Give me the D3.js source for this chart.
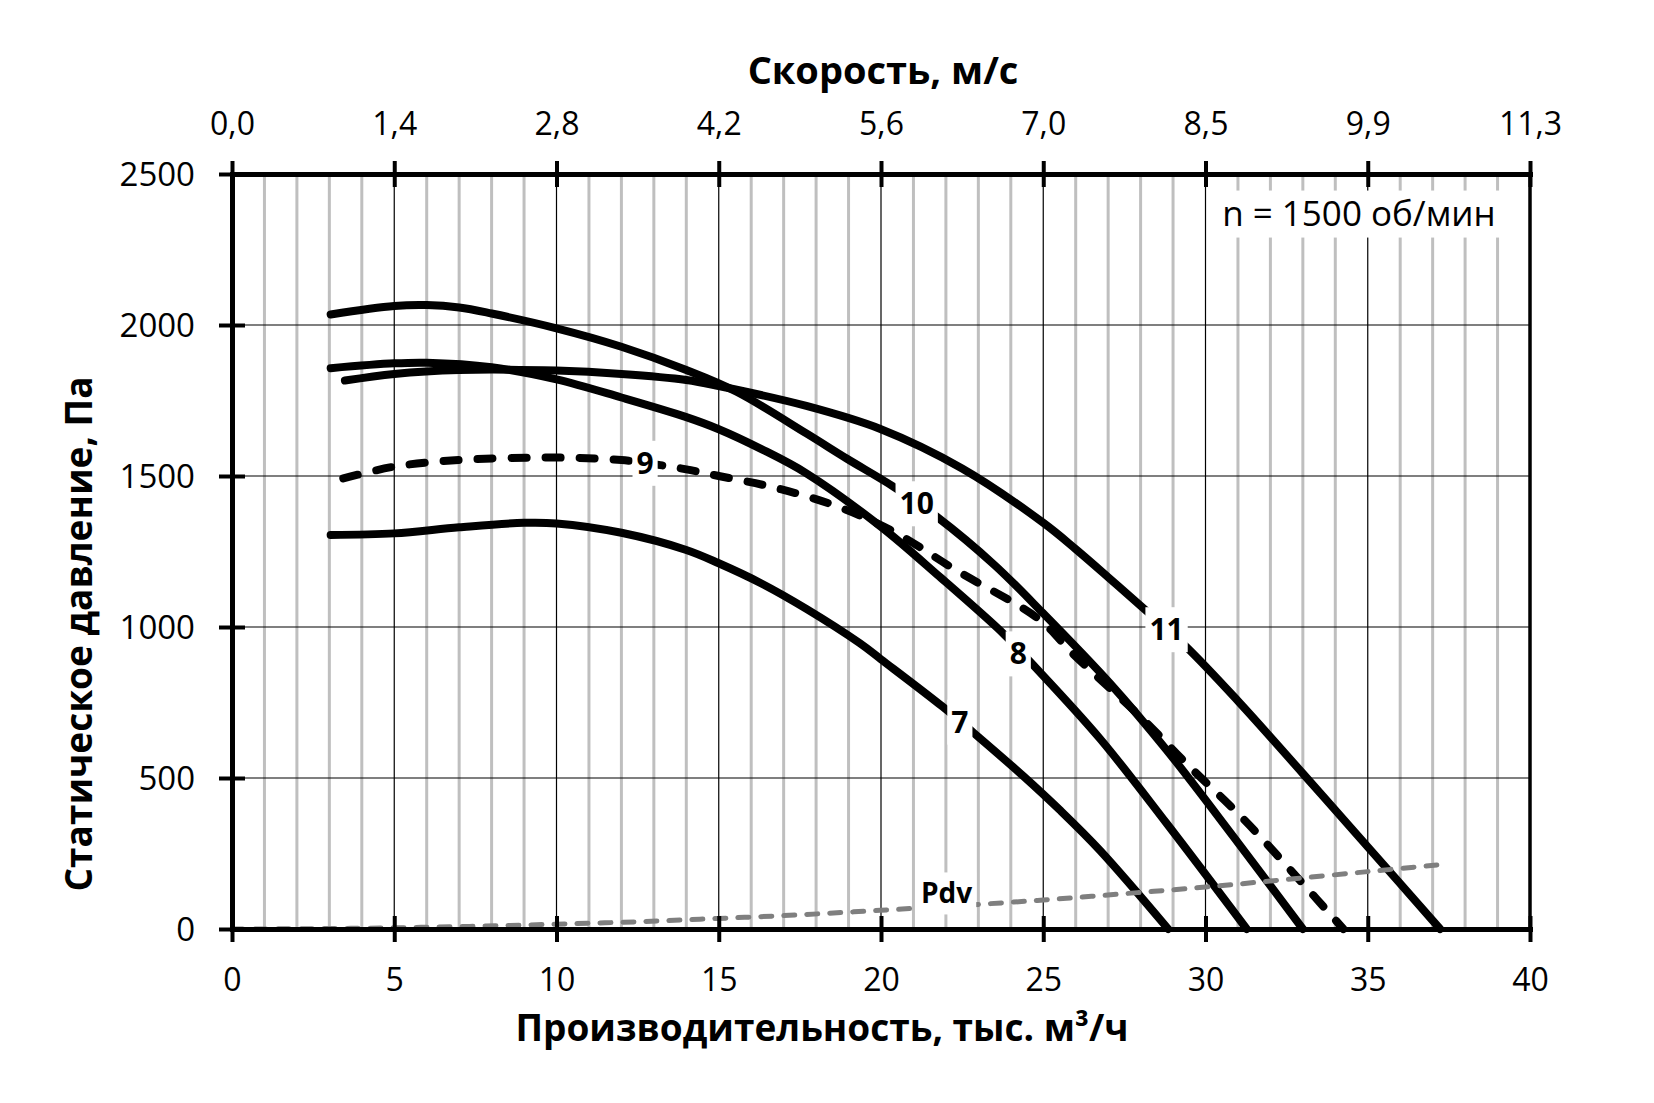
<!DOCTYPE html>
<html><head><meta charset="utf-8">
<script src="https://cdn.jsdelivr.net/npm/d3@7"></script>
<style>
body{margin:0;background:#fff;}
svg{display:block;}
text{font-family:"Open Sans",sans-serif;fill:#000;}
</style>
</head><body>
<svg id="chart" width="1654" height="1103"></svg>
<script>
// ---------- data ----------
const flowTicks = [0, 5, 10, 15, 20, 25, 30, 35, 40];
const velocityTickLabels = ["0,0", "1,4", "2,8", "4,2", "5,6", "7,0", "8,5", "9,9", "11,3"];
const pressureTicks = [0, 500, 1000, 1500, 2000, 2500];
const minorFlowGrid = [1,2,3,4,6,7,8,9,11,12,13,14,16,17,18,19,21,22,23,24,26,27,28,29,31,32,33,34,36,37,38,39];

const flow7 = [3.04, 5, 7, 9, 10, 12, 14, 15, 16.3, 17.7, 19.35, 20, 21.9, 22.85, 24.4, 25.5, 26.75, 28.85];
const p7    = [1305, 1310, 1330, 1345, 1343, 1312, 1255, 1211, 1145, 1060, 946, 893, 736, 650, 505, 395, 260, 0];

const flow8 = [3.04, 5, 6, 8, 10, 12, 14, 15, 16.3, 17.7, 20, 21.8, 23.8, 24.64, 26.75, 28.8, 31.27];
const p8    = [1857, 1873, 1875, 1860, 1820, 1760, 1695, 1655, 1590, 1509, 1332, 1167, 975, 880, 630, 350, 0];

const flow9 = [3.43, 5, 7, 10, 12, 13.2, 14, 15, 16.7, 18.5, 20.3, 22.3, 24.9, 25.9, 28.1, 29.4, 31.2, 32.9, 34.25];
const p9    = [1492, 1531, 1553, 1561, 1553, 1536, 1522, 1500, 1462, 1405, 1321, 1189, 1023, 913, 692, 549, 361, 162, 0];

const flow10 = [3.04, 5, 6, 7, 8, 10, 12, 14, 15.55, 17.7, 18.94, 20.38, 21.72, 23.5, 25, 27.06, 28.8, 30.86, 33.0];
const p10    = [2035, 2063, 2066, 2058, 2038, 1989, 1928, 1851, 1779, 1641, 1558, 1465, 1365, 1205, 1045, 813, 593, 306, 0];

const flow11 = [3.48, 5, 7, 10, 12, 14, 15, 17.7, 20, 22.5, 25, 26, 27, 28, 29.4, 31, 33, 35, 37.23];
const p11    = [1816, 1838, 1851, 1849, 1838, 1818, 1798, 1732, 1655, 1525, 1345, 1258, 1165, 1070, 935, 755, 515, 272, 0];

const flowPdv = [0, 2.5, 5, 7.5, 10, 12.5, 15, 17.5, 20, 22.5, 25, 27.5, 30, 32.5, 35, 37.13];
const pPdv    = [0, 1, 4, 9, 16, 24, 35, 47, 62, 78, 96, 117, 139, 164, 190, 212];

const curveNames = ["7", "8", "9", "10", "11", "Pdv"];
const labelFlow = [22.43, 24.23, 12.73, 21.1, 28.8, 22.02];
const labelPressure = [686, 912, 1543, 1409, 992, 118];

const speedNote = "n = 1500 об/мин";
const speedNoteFlow = 34.73, speedNotePressure = 2371;

// ---------- chart ----------
const svg = d3.select("#chart");
const x = d3.scaleLinear().domain([0, 40]).range([232, 1530]);
const y = d3.scaleLinear().domain([0, 2500]).range([929, 174]);

const grid = svg.append("g");
grid.selectAll("line.minor").data(minorFlowGrid).join("line").attr("class","minor")
  .attr("x1", d => x(d)).attr("x2", d => x(d)).attr("y1", y(2500)).attr("y2", y(0))
  .attr("stroke", "#bfbfbf").attr("stroke-width", 3);
grid.selectAll("line.majorv").data(flowTicks.slice(1, -1)).join("line").attr("class","majorv")
  .attr("x1", d => x(d)).attr("x2", d => x(d)).attr("y1", y(2500)).attr("y2", y(0))
  .attr("stroke", "#000").attr("stroke-width", 1.2);
grid.selectAll("line.majorh").data(pressureTicks.slice(1, -1)).join("line").attr("class","majorh")
  .attr("x1", x(0)).attr("x2", x(40)).attr("y1", d => y(d)).attr("y2", d => y(d))
  .attr("stroke", "#000").attr("stroke-width", 1.2);
grid.append("line").attr("x1", x(40)).attr("x2", x(40)).attr("y1", y(2500)).attr("y2", y(0))
  .attr("stroke", "#000").attr("stroke-width", 3.5);

// speed note
const note = svg.append("g");
const noteText = note.append("text").attr("x", x(speedNoteFlow)).attr("y", y(speedNotePressure))
  .attr("text-anchor", "middle").attr("dy", "0.36em").attr("font-size", 35).text(speedNote);
const nb = noteText.node().getBBox();
note.insert("rect", "text").attr("x", nb.x - 8).attr("y", nb.y + 2).attr("width", nb.width + 14).attr("height", nb.height).attr("fill", "#fff");

// curves
const zip = (a, b) => a.map((v, i) => [v, b[i]]);
const seriesData = [
  {name: "7", pts: zip(flow7, p7), color: "#000", width: 8, dash: null},
  {name: "8", pts: zip(flow8, p8), color: "#000", width: 8, dash: null},
  {name: "9", pts: zip(flow9, p9), color: "#000", width: 8, dash: "15,19"},
  {name: "10", pts: zip(flow10, p10), color: "#000", width: 8, dash: null},
  {name: "11", pts: zip(flow11, p11), color: "#000", width: 8, dash: null},
  {name: "Pdv", pts: zip(flowPdv, pPdv), color: "#7f7f7f", width: 5, dash: "11,12"}
];
const line = d3.line().x(d => x(d[0])).y(d => y(d[1])).curve(d3.curveCatmullRom.alpha(0.5));
svg.append("g").selectAll("path").data(seriesData).join("path")
  .attr("d", d => line(d.pts)).attr("fill", "none")
  .attr("stroke", d => d.color).attr("stroke-width", d => d.width)
  .attr("stroke-linecap", "round").attr("stroke-linejoin", "round")
  .attr("stroke-dasharray", d => d.dash);

// curve labels
const lbl = svg.append("g");
curveNames.forEach((n, i) => {
  const g = lbl.append("g");
  const t = g.append("text").attr("x", x(labelFlow[i])).attr("y", y(labelPressure[i]))
    .attr("text-anchor", "middle").attr("dy", "0.36em").attr("font-size", n === "Pdv" ? 28 : 30)
    .attr("font-weight", "bold").text(n);
  const b = t.node().getBBox();
  g.insert("rect", "text").attr("x", b.x - 4).attr("y", b.y - 1).attr("width", b.width + 8)
    .attr("height", b.height + 4).attr("fill", "#fff");
});

// axes
function styleAxis(g) {
  g.select(".domain").attr("stroke", "#000").attr("stroke-width", 5).attr("stroke-linecap", "square");
  g.selectAll(".tick line").attr("stroke", "#000").attr("stroke-width", 4);
  g.selectAll(".tick text").attr("font-size", 32).attr("font-family", "Open Sans").attr("fill", "#000");
}
const axisB = svg.append("g").attr("transform", `translate(0,${y(0)})`)
  .call(d3.axisBottom(x).tickValues(flowTicks).tickSize(13).tickSizeOuter(0));
styleAxis(axisB);
axisB.selectAll(".tick line").attr("y1", -13).attr("y2", 13);
axisB.selectAll(".tick text").attr("y", 50).attr("dy", "0.36em");

const axisT = svg.append("g").attr("transform", `translate(0,${y(2500)})`)
  .call(d3.axisTop(x).tickValues(flowTicks).tickFormat((d, i) => velocityTickLabels[i]).tickSize(13).tickSizeOuter(0));
styleAxis(axisT);
axisT.selectAll(".tick line").attr("y1", -13).attr("y2", 13);
axisT.selectAll(".tick text").attr("y", -51).attr("dy", "0.36em");

const axisL = svg.append("g").attr("transform", `translate(${x(0)},0)`)
  .call(d3.axisLeft(y).tickValues(pressureTicks).tickFormat(d3.format("d")).tickSize(13).tickSizeOuter(0));
styleAxis(axisL);
axisL.selectAll(".tick line").attr("x1", -13).attr("x2", 13);
axisL.selectAll(".tick text").attr("x", -37).attr("dy", "0.36em").attr("font-size", 33);

// titles
svg.append("text").attr("x", 883).attr("y", 84).attr("text-anchor", "middle")
  .attr("font-size", 38).attr("font-weight", "bold").text("Скорость, м/с");
svg.append("text").attr("x", 822).attr("y", 1041).attr("text-anchor", "middle")
  .attr("font-size", 37).attr("font-weight", "bold").text("Производительность, тыс. м³/ч");
svg.append("text").attr("transform", "translate(92,634) rotate(-90)").attr("text-anchor", "middle")
  .attr("font-size", 37).attr("font-weight", "bold").text("Статическое давление, Па");
</script>
</body></html>
